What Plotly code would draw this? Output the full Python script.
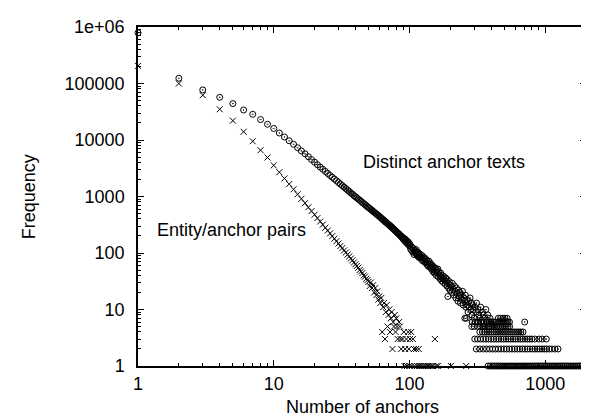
import math
import plotly.graph_objects as go

# ---------------- data ----------------
# Distinct anchor texts: main curve
distinct_x = [1, 2, 3, 4, 5, 6, 7, 8, 9, 10,
              11, 12, 13, 14, 15, 16, 17, 18, 19, 20,
              21, 22, 23, 24, 25, 26, 27, 28, 29, 30,
              31, 32, 33, 34, 35, 36, 37, 38, 39, 40,
              41, 42, 43, 44, 45, 46, 47, 48, 49, 50,
              51, 52, 53, 54, 55, 56, 57, 58, 59, 60,
              61, 62, 63, 64, 65, 66, 67, 68, 69, 70,
              71, 72, 73, 74, 75, 76, 77, 78, 79, 80,
              81, 82, 83, 84, 85, 86, 87, 88, 89, 90,
              91, 92, 93, 94, 95, 96, 97, 98, 99, 100]
distinct_y = [790000, 124000, 77000, 57000, 44000, 34000, 28500, 23000, 19000, 16000,
              13300, 11300, 9700, 8400, 7300, 6400, 5700, 5050, 4500, 4050,
              3650, 3320, 3030, 2780, 2560, 2360, 2190, 2040, 1900, 1770,
              1660, 1560, 1465, 1380, 1300, 1230, 1160, 1100, 1040, 990,
              945, 900, 860, 820, 785, 750, 720, 690, 660, 635,
              612, 590, 566, 548, 527, 510, 490, 476, 460, 444,
              432, 412, 402, 385, 378, 362, 350, 343, 330, 322,
              310, 305, 292, 288, 276, 270, 262, 252, 248, 240,
              232, 226, 222, 212, 210, 200, 200, 188, 190, 176,
              182, 166, 176, 156, 166, 148, 160, 142, 152, 134]

# Distinct anchor texts: scattered tail
distinct_tail_x = [101, 102, 103, 104, 105, 106, 107, 108, 109, 110,
                   111, 112, 113, 114, 115, 116, 117, 118, 119, 120,
                   122, 123, 124, 126, 127, 128, 130, 131, 132, 134,
                   135, 136, 138, 139, 140, 142, 143, 145, 146, 148,
                   149, 150, 152, 153, 155, 156, 158, 159, 160, 162,
                   163, 165, 166, 168, 170, 171, 173, 175, 176, 178,
                   180, 182, 184, 185, 187, 189, 190, 192, 193, 195,
                   197, 199, 200, 203, 205, 207, 210, 212, 215, 217,
                   220, 222, 225, 228, 230, 233, 235, 238, 240, 243,
                   246, 249, 252, 255, 256, 258, 261, 264, 267, 270,
                   273, 276, 280, 283, 286, 289, 292, 296, 300, 304,
                   308, 312, 316, 320, 325, 330, 335, 340, 345, 350,
                   355, 360, 366, 372, 378, 385, 392, 400, 263]
distinct_tail_y = [142, 118, 128, 110, 125, 104, 120, 94, 112, 108,
                   98, 115, 96, 92, 104, 86, 99, 88, 82, 95,
                   84, 76, 90, 72, 84, 78, 68, 80, 70, 74,
                   62, 66, 58, 72, 64, 56, 66, 52, 61, 55,
                   47, 58, 50, 44, 54, 46, 40, 50, 45, 52,
                   38, 46, 41, 35, 44, 38, 32, 40, 35, 30,
                   38, 33, 28, 36, 31, 26, 34, 17, 29, 24,
                   31, 22, 27, 25, 20, 29, 23, 18, 26, 21,
                   16, 24, 19, 14, 22, 17, 20, 13, 18, 15,
                   21, 12, 16, 14, 7, 18, 11, 15, 12, 9,
                   14, 11, 16, 10, 13, 8, 12, 10, 7, 11,
                   9, 13, 6, 10, 8, 7, 11, 6, 9, 8,
                   5, 7, 10, 6, 8, 5, 7, 6, 7]

# Distinct anchor texts: horizontal rows at small frequencies (x values per frequency)
distinct_row7_x = [452, 470, 488, 505, 525]
distinct_row6_x = [290, 305, 322, 338, 352, 368, 385, 398, 415, 430, 447, 462,
                   480, 497, 515, 532, 546, 707]
distinct_row5_x = [288, 300, 318, 333, 347, 362, 376, 390, 405, 420, 436, 451,
                   467, 483, 500, 516, 533, 548]
distinct_row4_x = [330, 345, 358, 372, 387, 402, 417, 433, 449, 466, 483, 500,
                   518, 536, 555, 575, 596, 618, 640, 663, 687]
distinct_row3_x = [303, 318, 334, 350, 366, 383, 400, 418, 436, 455, 474, 494,
                   515, 536, 558, 581, 605, 630, 656, 683, 711, 740, 770, 800,
                   840, 900, 950, 1020]
distinct_row2_x = [311, 330, 350, 370, 390, 410, 430, 452, 474, 497, 520, 545,
                   570, 596, 623, 651, 680, 710, 741, 773, 806, 840, 875, 911,
                   948, 986, 1025, 1070, 1120, 1180, 1245]
distinct_row1_x = [380, 395, 410, 425, 440, 456, 472, 489, 506, 524, 542, 561,
                   580, 600, 621, 642, 664, 687, 710, 734, 759, 785, 811, 838,
                   866, 895, 925, 956, 988, 1021, 1055, 1090, 1126, 1163, 1201,
                   1241, 1282, 1324, 1367, 1412, 1458, 1505, 1554, 1604, 1656,
                   1709, 1764, 1820, 1878, 1938, 2000]

# Entity/anchor pairs
pairs_x = [1, 2, 3, 4, 5, 6, 7, 8, 9, 10,
           11, 12, 13, 14, 15, 16, 17, 18, 19, 20,
           21, 22, 23, 24, 25, 26, 27, 28, 29, 30,
           31, 32, 33, 34, 35, 36, 37, 38, 39, 40,
           41, 42, 43, 44, 45, 46, 47, 48, 49, 50,
           51, 52, 53, 54, 55, 56, 57, 58, 59, 60,
           61, 62, 63, 64, 65, 66, 67, 68, 69, 70,
           71, 72, 73, 74, 75, 76, 77, 78, 79, 80,
           81, 82, 84, 85, 86, 87, 89, 91, 92, 93,
           95, 96, 98, 99, 100, 101, 103, 104, 106, 108,
           109, 112, 114, 117, 118, 121, 125, 129, 133, 137,
           141, 146, 150, 154, 158, 162, 202, 262]
pairs_y = [205000, 100000, 62000, 35000, 22000, 14000, 9500, 6600, 4900, 3550,
           2690, 2090, 1660, 1340, 1095, 908, 762, 646, 552, 476,
           415, 361, 318, 280, 250, 222, 199, 179, 162, 147,
           133, 122, 111, 102, 94, 87, 80, 74, 68, 63,
           59, 55, 50, 47, 44, 40, 38, 35, 33, 31,
           26, 30, 24, 27, 20, 24, 18, 21, 15, 17,
           13, 16, 4, 11, 13, 3, 9, 12, 5, 8,
           10, 4, 7, 9, 2, 6, 5, 8, 4, 7,
           5, 3, 6, 5, 3, 2, 3, 4, 1, 2,
           3, 1, 4, 2, 1, 3, 4, 1, 3, 2,
           1, 2, 1, 2, 1, 1, 1, 1, 1, 1,
           1, 1, 1, 3, 1, 1, 1, 1]

x_tick_vals = [1, 10, 100, 1000]
x_tick_text = ["1", "10", "100", "1000"]
y_tick_vals = [1, 10, 100, 1000, 10000, 100000, 1000000]
y_tick_text = ["1", "10", "100", "1000", "10000", "100000", "1e+06"]

# ---------------- assemble ----------------
d_x = list(distinct_x) + list(distinct_tail_x)
d_y = list(distinct_y) + list(distinct_tail_y)
for freq, xs in [(7, distinct_row7_x), (6, distinct_row6_x), (5, distinct_row5_x),
                 (4, distinct_row4_x), (3, distinct_row3_x), (2, distinct_row2_x),
                 (1, distinct_row1_x)]:
    d_x += xs
    d_y += [freq] * len(xs)

FONT = "Liberation Sans, Arial, Helvetica, sans-serif"

fig = go.Figure()
fig.add_trace(go.Scatter(
    x=d_x, y=d_y, mode="markers", name="Distinct anchor texts",
    marker=dict(symbol="circle-open-dot", size=6, color="black",
                line=dict(width=1, color="black")),
    cliponaxis=False,
))
fig.add_trace(go.Scatter(
    x=pairs_x, y=pairs_y, mode="markers", name="Entity/anchor pairs",
    marker=dict(symbol="x-thin-open", size=6, color="black",
                line=dict(width=1, color="black")),
    cliponaxis=False,
))

axis_common = dict(
    type="log", showgrid=False, zeroline=False,
    ticks="inside", ticklen=6, tickwidth=1, tickcolor="black",
    showline=True, linecolor="black", linewidth=1.5, mirror="ticks",
    tickfont=dict(family=FONT, size=18, color="black"),
)

fig.update_xaxes(
    **axis_common,
    range=[0, math.log10(2000)],
    tickmode="array", tickvals=x_tick_vals, ticktext=x_tick_text,
    ticklabelstandoff=1,
    minor=dict(ticks="inside", ticklen=3, tickwidth=1, tickcolor="black",
               tickvals=[m * 10 ** e for e in range(0, 4) for m in range(2, 10)],
               showgrid=False),
)
fig.update_yaxes(
    **axis_common,
    range=[0, 6],
    tickmode="array", tickvals=y_tick_vals, ticktext=y_tick_text,
    ticklabelstandoff=8,
    minor=dict(ticks="inside", ticklen=3, tickwidth=1, tickcolor="black",
               tickvals=[m * 10 ** e for e in range(0, 6) for m in range(2, 10)],
               showgrid=False),
)

fig.update_layout(
    width=589, height=416,
    margin=dict(l=130, r=9, t=14, b=58),
    plot_bgcolor="white", paper_bgcolor="white",
    showlegend=False,
    font=dict(family=FONT, size=18, color="black"),
    annotations=[
        dict(text="Number of anchors", xref="paper", yref="paper",
             x=0.5, y=-0.122, xanchor="center", yanchor="middle",
             showarrow=False, font=dict(family=FONT, size=18, color="black")),
        dict(text="Frequency", xref="paper", yref="paper",
             x=-0.244, y=0.5, xanchor="center", yanchor="middle", textangle=-90,
             showarrow=False, font=dict(family=FONT, size=18, color="black")),
        dict(text="Distinct anchor texts", xref="paper", yref="paper",
             x=0.683, y=0.602, xanchor="center", yanchor="middle",
             showarrow=False, font=dict(family=FONT, size=18, color="black")),
        dict(text="Entity/anchor pairs", xref="paper", yref="paper",
             x=0.209, y=0.401, xanchor="center", yanchor="middle",
             showarrow=False, font=dict(family=FONT, size=18, color="black")),
    ],
)

fig.write_html("out.html")
